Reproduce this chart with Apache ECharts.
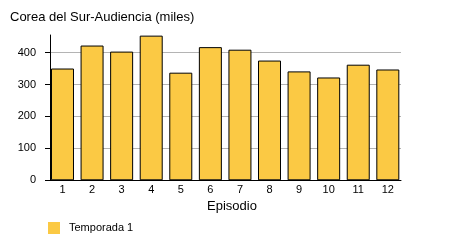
<!DOCTYPE html>
<html><head><meta charset="utf-8">
<script src="https://cdn.jsdelivr.net/npm/echarts@6/dist/echarts.min.js"></script>
<style>html,body{margin:0;padding:0;background:#fff}#c{width:450px;height:250px}</style>
</head><body><div id="c"></div>
<script>
var categories = ['1','2','3','4','5','6','7','8','9','10','11','12'];
var temporada1 = [350, 422, 403, 453, 337, 417, 409, 375, 341, 322, 362, 347];
var yTicks = [0, 100, 200, 300, 400];
var seriesName = 'Temporada 1';
var titleText = 'Corea del Sur-Audiencia (miles)';
var xName = 'Episodio';

var FONT = '"Liberation Sans", Arial, sans-serif';
var YMAX = 455;
var TOP = 35, H = 145.3;
var chart = echarts.init(document.getElementById('c'), null, {renderer: 'canvas'});
chart.setOption({
  animation: false,
  backgroundColor: '#fff',
  title: [
    {text: titleText, left: 10, top: 11, padding: 0, textStyle: {fontFamily: FONT, fontSize: 13, fontWeight: 'normal', color: '#000'}},
    {text: xName, left: 207, top: 200, padding: 0, textStyle: {fontFamily: FONT, fontSize: 13, fontWeight: 'normal', color: '#000'}}
  ],
  legend: {
    data: [seriesName], left: 48, top: 222, padding: 0, itemWidth: 12, itemHeight: 12, icon: 'rect',
    textStyle: {fontFamily: FONT, fontSize: 11, color: '#000', padding: [4, 0, 0, 4]},
    itemStyle: {borderWidth: 0}
  },
  grid: [
    {left: 47.7, width: 354.9, top: TOP, height: H},
    {left: 50, width: 351, top: TOP, height: H},
    {left: 45, width: 5, top: TOP, height: H}
  ],
  xAxis: [
    {type: 'category', gridIndex: 0, data: categories, axisLine: {show: false}, axisTick: {show: false},
     axisLabel: {fontFamily: FONT, fontSize: 11, color: '#000', margin: 4}},
    {type: 'value', gridIndex: 1, axisLine: {show: true, lineStyle: {color: '#000', width: 1}}, axisTick: {show: false},
     axisLabel: {show: false}, splitLine: {show: false}},
    {type: 'value', gridIndex: 2, show: false}
  ],
  yAxis: [
    {type: 'value', gridIndex: 0, min: 0, max: YMAX, interval: 100, show: false},
    {type: 'value', gridIndex: 1, min: 0, max: YMAX, interval: 100,
     axisLine: {show: true, lineStyle: {color: '#000', width: 1}}, axisTick: {show: false},
     axisLabel: {fontFamily: FONT, fontSize: 11, color: '#000', margin: 14, showMaxLabel: false,
       formatter: function (v) { return yTicks.indexOf(v) >= 0 ? String(v) : ''; }},
     splitLine: {show: true, showMaxLine: false, lineStyle: {color: '#b4b4b4', width: 1}}},
    {type: 'value', gridIndex: 2, min: 0, max: YMAX, interval: 100,
     axisLine: {show: false}, axisTick: {show: false}, axisLabel: {show: false},
     splitLine: {show: true, showMaxLine: false, lineStyle: {color: '#000', width: 1}}}
  ],
  series: [{
    name: seriesName, type: 'bar', xAxisIndex: 0, yAxisIndex: 0, data: temporada1, barWidth: 23,
    itemStyle: {color: '#fbc944', borderColor: '#000', borderWidth: 1}, z: 3
  }]
});
</script></body></html>
